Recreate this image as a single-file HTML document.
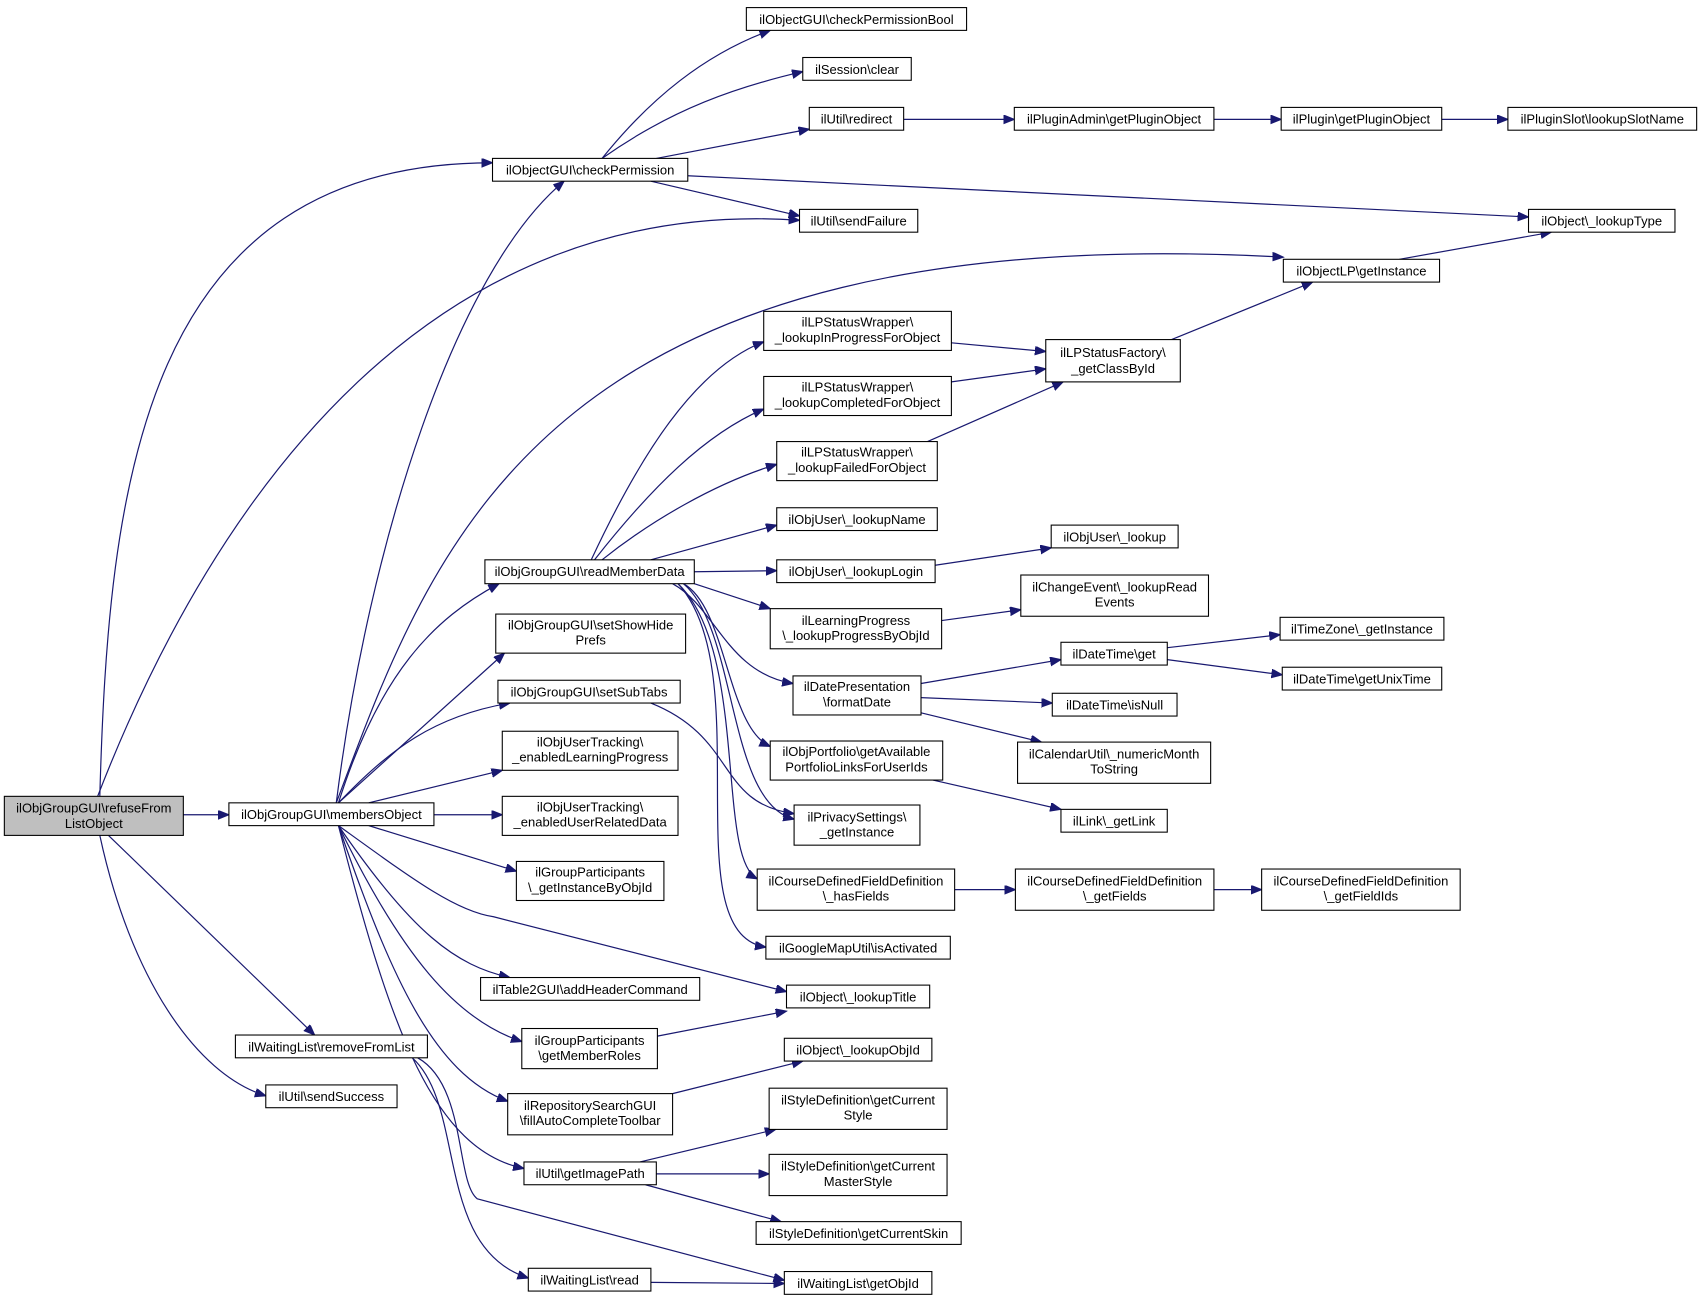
<!DOCTYPE html>
<html><head><meta charset="utf-8"><style>
html,body{margin:0;padding:0;background:#fff;}
svg{display:block}
text{font-family:"Liberation Sans",Arial,sans-serif;font-size:12px;fill:#000}
rect{fill:#fff;stroke:#000;stroke-width:1}
path.e{fill:none;stroke:#191970;stroke-width:1.1}
</style></head><body>
<svg width="1701" height="1303" viewBox="0 0 1568 1201" preserveAspectRatio="none" xmlns="http://www.w3.org/2000/svg">
<defs><marker id="a" markerUnits="userSpaceOnUse" markerWidth="12" markerHeight="10" refX="10" refY="4" orient="auto"><path d="M0,0 L10,4 L0,8 Z" fill="#191970" stroke="#191970"/></marker></defs>
<g marker-end="url(#a)">
<path class="e" d="M92,734 C100,450 130,150 454,150"/>
<path class="e" d="M90,734 C200,450 400,180 737,203"/>
<path class="e" d="M169,751 L211,751"/>
<path class="e" d="M100,770 L290,954"/>
<path class="e" d="M92,770 C120,900 180,990 245,1010"/>
<path class="e" d="M310,740 C340,500 420,250 520,167"/>
<path class="e" d="M310,740 C400,500 500,200 1183,237"/>
<path class="e" d="M312,740 C350,620 400,570 460,538"/>
<path class="e" d="M312,740 L465,602"/>
<path class="e" d="M312,740 C360,690 400,660 470,648"/>
<path class="e" d="M340,740 L463,710"/>
<path class="e" d="M400,751 L463,751"/>
<path class="e" d="M340,761 L476,803"/>
<path class="e" d="M312,761 C380,810 420,840 455,845 L725,914"/>
<path class="e" d="M312,761 C380,860 420,890 470,901"/>
<path class="e" d="M312,761 C370,880 420,940 481,960"/>
<path class="e" d="M312,761 C360,900 400,990 468,1015"/>
<path class="e" d="M312,761 C360,950 400,1060 483,1077"/>
<path class="e" d="M380,975 C430,1020 400,1150 487,1178"/>
<path class="e" d="M385,975 C430,1000 420,1090 440,1105 L723,1180"/>
<path class="e" d="M555,146 C600,90 650,50 710,28"/>
<path class="e" d="M555,146 C620,100 680,80 740,66"/>
<path class="e" d="M605,146 L746,119"/>
<path class="e" d="M600,167 L737,199"/>
<path class="e" d="M634,162 L1409,200"/>
<path class="e" d="M833,110 L935,110"/>
<path class="e" d="M1119,110 L1181,110"/>
<path class="e" d="M1329,110 L1390,110"/>
<path class="e" d="M1290,239 L1430,214"/>
<path class="e" d="M545,516 C590,420 640,340 704,315"/>
<path class="e" d="M548,516 C600,450 650,400 704,377"/>
<path class="e" d="M555,516 C600,480 660,445 716,428"/>
<path class="e" d="M600,516 L716,484"/>
<path class="e" d="M640,527 L716,526"/>
<path class="e" d="M640,538 L710,561"/>
<path class="e" d="M620,538 C660,560 670,620 731,630"/>
<path class="e" d="M630,538 C670,560 670,670 710,688"/>
<path class="e" d="M630,538 C680,580 670,740 732,755"/>
<path class="e" d="M625,538 C690,600 660,790 698,810"/>
<path class="e" d="M625,538 C700,620 620,860 706,873"/>
<path class="e" d="M600,648 C680,680 660,740 732,750"/>
<path class="e" d="M877,316 L964,324"/>
<path class="e" d="M877,352 L964,340"/>
<path class="e" d="M855,407 L980,352"/>
<path class="e" d="M1080,313 L1210,260"/>
<path class="e" d="M862,521 L969,505"/>
<path class="e" d="M868,572 L941,562"/>
<path class="e" d="M849,630 L978,608"/>
<path class="e" d="M849,643 L970,648"/>
<path class="e" d="M849,657 L960,684"/>
<path class="e" d="M1076,597 L1180,585"/>
<path class="e" d="M1076,608 L1182,622"/>
<path class="e" d="M860,719 L978,746"/>
<path class="e" d="M880,820 L936,820"/>
<path class="e" d="M1119,820 L1163,820"/>
<path class="e" d="M606,955 L725,932"/>
<path class="e" d="M620,1008 L740,978"/>
<path class="e" d="M590,1071 L715,1041"/>
<path class="e" d="M605,1082 L709,1082"/>
<path class="e" d="M595,1092 L720,1126"/>
<path class="e" d="M600,1182 L723,1183"/>
</g>
<g text-anchor="middle">
<rect x="4" y="734" width="165" height="36" style="fill:#bfbfbf"/><text x="86.5" y="749">ilObjGroupGUI\refuseFrom</text><text x="86.5" y="763">ListObject</text>
<rect x="211" y="740" width="189" height="21"/><text x="305.5" y="755">ilObjGroupGUI\membersObject</text>
<rect x="454" y="146" width="180" height="21"/><text x="544" y="161">ilObjectGUI\checkPermission</text>
<rect x="688" y="7" width="203" height="21"/><text x="789.5" y="22">ilObjectGUI\checkPermissionBool</text>
<rect x="740" y="53" width="100" height="21"/><text x="790" y="68">ilSession\clear</text>
<rect x="746" y="99" width="87" height="21"/><text x="789.5" y="114">ilUtil\redirect</text>
<rect x="935" y="99" width="184" height="21"/><text x="1027" y="114">ilPluginAdmin\getPluginObject</text>
<rect x="1181" y="99" width="148" height="21"/><text x="1255" y="114">ilPlugin\getPluginObject</text>
<rect x="1390" y="99" width="174" height="21"/><text x="1477" y="114">ilPluginSlot\lookupSlotName</text>
<rect x="737" y="193" width="109" height="21"/><text x="791.5" y="208">ilUtil\sendFailure</text>
<rect x="1409" y="193" width="135" height="21"/><text x="1476.5" y="208">ilObject\_lookupType</text>
<rect x="1183" y="239" width="144" height="21"/><text x="1255" y="254">ilObjectLP\getInstance</text>
<rect x="964" y="313" width="124" height="39"/><text x="1026" y="329">ilLPStatusFactory\</text><text x="1026" y="344">_getClassById</text>
<rect x="704" y="287" width="173" height="36"/><text x="790.5" y="301">ilLPStatusWrapper\</text><text x="790.5" y="315">_lookupInProgressForObject</text>
<rect x="704" y="347" width="173" height="36"/><text x="790.5" y="361">ilLPStatusWrapper\</text><text x="790.5" y="375">_lookupCompletedForObject</text>
<rect x="716" y="407" width="148" height="36"/><text x="790" y="421">ilLPStatusWrapper\</text><text x="790" y="435">_lookupFailedForObject</text>
<rect x="716" y="468" width="148" height="21"/><text x="790" y="483">ilObjUser\_lookupName</text>
<rect x="716" y="516" width="146" height="21"/><text x="789" y="531">ilObjUser\_lookupLogin</text>
<rect x="969" y="484" width="117" height="21"/><text x="1027.5" y="499">ilObjUser\_lookup</text>
<rect x="447" y="516" width="193" height="22"/><text x="543.5" y="531">ilObjGroupGUI\readMemberData</text>
<rect x="941" y="530" width="173" height="38"/><text x="1027.5" y="545">ilChangeEvent\_lookupRead</text><text x="1027.5" y="559">Events</text>
<rect x="710" y="561" width="158" height="37"/><text x="789" y="576">ilLearningProgress</text><text x="789" y="590">\_lookupProgressByObjId</text>
<rect x="457" y="566" width="175" height="36"/><text x="544.5" y="580">ilObjGroupGUI\setShowHide</text><text x="544.5" y="594">Prefs</text>
<rect x="459" y="627" width="168" height="21"/><text x="543" y="642">ilObjGroupGUI\setSubTabs</text>
<rect x="978" y="592" width="98" height="21"/><text x="1027" y="607">ilDateTime\get</text>
<rect x="1180" y="569" width="151" height="21"/><text x="1255.5" y="584">ilTimeZone\_getInstance</text>
<rect x="1182" y="615" width="147" height="21"/><text x="1255.5" y="630">ilDateTime\getUnixTime</text>
<rect x="731" y="623" width="118" height="36"/><text x="790" y="637">ilDatePresentation</text><text x="790" y="651">\formatDate</text>
<rect x="970" y="639" width="115" height="21"/><text x="1027.5" y="654">ilDateTime\isNull</text>
<rect x="938" y="684" width="178" height="38"/><text x="1027" y="699">ilCalendarUtil\_numericMonth</text><text x="1027" y="713">ToString</text>
<rect x="463" y="674" width="162" height="36"/><text x="544" y="688">ilObjUserTracking\</text><text x="544" y="702">_enabledLearningProgress</text>
<rect x="710" y="683" width="159" height="36"/><text x="789.5" y="697">ilObjPortfolio\getAvailable</text><text x="789.5" y="711">PortfolioLinksForUserIds</text>
<rect x="463" y="734" width="162" height="36"/><text x="544" y="748">ilObjUserTracking\</text><text x="544" y="762">_enabledUserRelatedData</text>
<rect x="732" y="742" width="116" height="37"/><text x="790" y="757">ilPrivacySettings\</text><text x="790" y="771">_getInstance</text>
<rect x="978" y="746" width="98" height="21"/><text x="1027" y="761">ilLink\_getLink</text>
<rect x="476" y="794" width="136" height="36"/><text x="544" y="808">ilGroupParticipants</text><text x="544" y="822">\_getInstanceByObjId</text>
<rect x="698" y="801" width="182" height="38"/><text x="789" y="816">ilCourseDefinedFieldDefinition</text><text x="789" y="830">\_hasFields</text>
<rect x="936" y="801" width="183" height="38"/><text x="1027.5" y="816">ilCourseDefinedFieldDefinition</text><text x="1027.5" y="830">\_getFields</text>
<rect x="1163" y="801" width="183" height="38"/><text x="1254.5" y="816">ilCourseDefinedFieldDefinition</text><text x="1254.5" y="830">\_getFieldIds</text>
<rect x="706" y="863" width="170" height="21"/><text x="791" y="878">ilGoogleMapUtil\isActivated</text>
<rect x="443" y="901" width="202" height="21"/><text x="544" y="916">ilTable2GUI\addHeaderCommand</text>
<rect x="725" y="908" width="132" height="21"/><text x="791" y="923">ilObject\_lookupTitle</text>
<rect x="481" y="948" width="125" height="37"/><text x="543.5" y="963">ilGroupParticipants</text><text x="543.5" y="977">\getMemberRoles</text>
<rect x="217" y="954" width="177" height="21"/><text x="305.5" y="969">ilWaitingList\removeFromList</text>
<rect x="723" y="957" width="136" height="21"/><text x="791" y="972">ilObject\_lookupObjId</text>
<rect x="245" y="1000" width="121" height="21"/><text x="305.5" y="1015">ilUtil\sendSuccess</text>
<rect x="468" y="1008" width="152" height="38"/><text x="544" y="1023">ilRepositorySearchGUI</text><text x="544" y="1037">\fillAutoCompleteToolbar</text>
<rect x="709" y="1003" width="164" height="38"/><text x="791" y="1018">ilStyleDefinition\getCurrent</text><text x="791" y="1032">Style</text>
<rect x="483" y="1071" width="122" height="21"/><text x="544" y="1086">ilUtil\getImagePath</text>
<rect x="709" y="1064" width="164" height="38"/><text x="791" y="1079">ilStyleDefinition\getCurrent</text><text x="791" y="1093">MasterStyle</text>
<rect x="697" y="1126" width="189" height="21"/><text x="791.5" y="1141">ilStyleDefinition\getCurrentSkin</text>
<rect x="487" y="1169" width="113" height="21"/><text x="543.5" y="1184">ilWaitingList\read</text>
<rect x="723" y="1172" width="136" height="21"/><text x="791" y="1187">ilWaitingList\getObjId</text>
</g>
</svg>
</body></html>
